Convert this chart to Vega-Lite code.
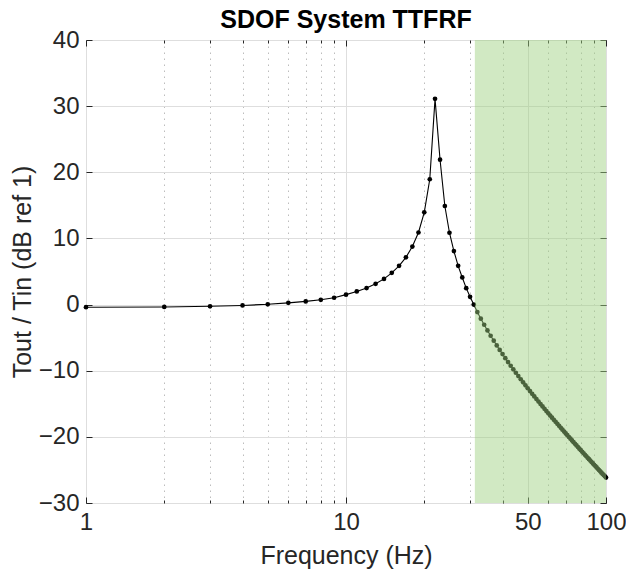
{
  "$schema": "https://vega.github.io/schema/vega-lite/v6.json",
  "width": 520,
  "height": 463,
  "autosize": "none",
  "padding": {"left": 86, "top": 40, "right": 20, "bottom": 72},
  "background": "white",
  "title": {"text": "SDOF System TTFRF", "fontSize": 25, "fontWeight": "bold", "font": "Liberation Sans", "color": "#000000", "offset": -5},
  "config": {
    "view": {"stroke": "#262626", "strokeWidth": 1},
    "axis": {"labelFont": "Liberation Sans", "titleFont": "Liberation Sans", "labelColor": "#262626", "titleColor": "#262626", "tickColor": "#262626", "titleFontWeight": "normal"}
  },
  "datasets": {
    "frf": [
      {"freq": 1, "db": -0.4}, {"freq": 2, "db": -0.36}, {"freq": 3, "db": -0.26}, {"freq": 4, "db": -0.13},
      {"freq": 5, "db": 0.04}, {"freq": 6, "db": 0.26}, {"freq": 7, "db": 0.48}, {"freq": 8, "db": 0.72},
      {"freq": 9, "db": 1.03}, {"freq": 10, "db": 1.5}, {"freq": 11, "db": 1.99}, {"freq": 12, "db": 2.49},
      {"freq": 13, "db": 3.14}, {"freq": 14, "db": 3.88}, {"freq": 15, "db": 4.8}, {"freq": 16, "db": 5.86},
      {"freq": 17, "db": 7.14}, {"freq": 18, "db": 8.77}, {"freq": 19, "db": 10.9}, {"freq": 20, "db": 13.95},
      {"freq": 21, "db": 18.95}, {"freq": 22, "db": 31.1}, {"freq": 23, "db": 21.9}, {"freq": 24, "db": 14.9},
      {"freq": 25, "db": 10.86}, {"freq": 26, "db": 8.09}, {"freq": 27, "db": 5.86}, {"freq": 28, "db": 4.1},
      {"freq": 29, "db": 2.48}, {"freq": 30, "db": 1.17}, {"freq": 31, "db": 0.0}, {"freq": 32, "db": -1.13},
      {"freq": 33, "db": -2.13}, {"freq": 34, "db": -3.05}, {"freq": 35, "db": -3.91}, {"freq": 36, "db": -4.71},
      {"freq": 37, "db": -5.46}, {"freq": 38, "db": -6.18}, {"freq": 39, "db": -6.85}, {"freq": 40, "db": -7.49},
      {"freq": 41, "db": -8.1}, {"freq": 42, "db": -8.69}, {"freq": 43, "db": -9.25}, {"freq": 44, "db": -9.79},
      {"freq": 45, "db": -10.31}, {"freq": 46, "db": -10.81}, {"freq": 47, "db": -11.29}, {"freq": 48, "db": -11.76},
      {"freq": 49, "db": -12.21}, {"freq": 50, "db": -12.65}, {"freq": 51, "db": -13.08}, {"freq": 52, "db": -13.49},
      {"freq": 53, "db": -13.89}, {"freq": 54, "db": -14.29}, {"freq": 55, "db": -14.67}, {"freq": 56, "db": -15.04},
      {"freq": 57, "db": -15.4}, {"freq": 58, "db": -15.76}, {"freq": 59, "db": -16.1}, {"freq": 60, "db": -16.44},
      {"freq": 61, "db": -16.78}, {"freq": 62, "db": -17.1}, {"freq": 63, "db": -17.42}, {"freq": 64, "db": -17.73},
      {"freq": 65, "db": -18.03}, {"freq": 66, "db": -18.33}, {"freq": 67, "db": -18.63}, {"freq": 68, "db": -18.92},
      {"freq": 69, "db": -19.2}, {"freq": 70, "db": -19.48}, {"freq": 71, "db": -19.75}, {"freq": 72, "db": -20.02},
      {"freq": 73, "db": -20.28}, {"freq": 74, "db": -20.54}, {"freq": 75, "db": -20.8}, {"freq": 76, "db": -21.05},
      {"freq": 77, "db": -21.3}, {"freq": 78, "db": -21.54}, {"freq": 79, "db": -21.78}, {"freq": 80, "db": -22.02},
      {"freq": 81, "db": -22.25}, {"freq": 82, "db": -22.48}, {"freq": 83, "db": -22.71}, {"freq": 84, "db": -22.93},
      {"freq": 85, "db": -23.16}, {"freq": 86, "db": -23.37}, {"freq": 87, "db": -23.59}, {"freq": 88, "db": -23.8},
      {"freq": 89, "db": -24.01}, {"freq": 90, "db": -24.22}, {"freq": 91, "db": -24.42}, {"freq": 92, "db": -24.62},
      {"freq": 93, "db": -24.82}, {"freq": 94, "db": -25.02}, {"freq": 95, "db": -25.21}, {"freq": 96, "db": -25.41},
      {"freq": 97, "db": -25.6}, {"freq": 98, "db": -25.78}, {"freq": 99, "db": -25.97}, {"freq": 100, "db": -26.15}
    ],
    "band": [{"f_start": 31.3, "f_end": 100}]
  },
  "layer": [
    {
      "data": {"name": "frf"},
      "mark": {"type": "line", "color": "#000000", "strokeWidth": 1.1},
      "encoding": {
        "x": {
          "field": "freq", "type": "quantitative",
          "scale": {"type": "log", "domain": [1, 100], "nice": false},
          "axis": {
            "orient": "bottom",
            "values": [1, 2, 3, 4, 5, 6, 7, 8, 9, 10, 20, 30, 40, 50, 60, 70, 80, 90, 100],
            "format": "d",
            "labelExpr": "indexof([1, 10, 50, 100], datum.value) >= 0 ? datum.label : ''",
            "labelFlush": false,
            "labelOverlap": false,
            "labelFontSize": 24,
            "labelPadding": 13,
            "domain": false,
            "grid": true,
            "gridColor": {"condition": {"test": "indexof([1, 10, 50, 100], datum.value) >= 0", "value": "#dedede"}, "value": "#bdbdbd"},
            "gridDash": {"condition": {"test": "indexof([1, 10, 50, 100], datum.value) >= 0", "value": []}, "value": [1.5, 4.5]},
            "tickSize": {"condition": {"test": "indexof([1, 10, 50, 100], datum.value) >= 0", "value": -6}, "value": -3},
            "title": "Frequency (Hz)",
            "titleFontSize": 25,
            "titlePadding": 6
          }
        },
        "y": {
          "field": "db", "type": "quantitative",
          "scale": {"domain": [-30, 40], "nice": false},
          "axis": {
            "orient": "left",
            "values": [-30, -20, -10, 0, 10, 20, 30, 40],
            "labelFontSize": 24,
            "labelPadding": 13,
            "domain": false,
            "grid": true,
            "gridColor": "#dedede",
            "tickSize": -6,
            "title": "Tout / Tin (dB ref 1)",
            "titleFontSize": 25,
            "titlePadding": 3
          }
        }
      }
    },
    {
      "data": {"name": "frf"},
      "mark": {"type": "point", "filled": true, "color": "#000000", "size": 22, "opacity": 1},
      "encoding": {
        "x": {
          "field": "freq", "type": "quantitative",
          "axis": {
            "orient": "top",
            "values": [1, 2, 3, 4, 5, 6, 7, 8, 9, 10, 20, 30, 40, 50, 60, 70, 80, 90, 100],
            "labels": false, "domain": false, "grid": false, "title": null,
            "tickSize": {"condition": {"test": "indexof([1, 10, 50, 100], datum.value) >= 0", "value": -6}, "value": -3}
          }
        },
        "y": {
          "field": "db", "type": "quantitative",
          "axis": {
            "orient": "right",
            "values": [-30, -20, -10, 0, 10, 20, 30, 40],
            "labels": false, "domain": false, "grid": false, "title": null,
            "tickSize": -6
          }
        }
      }
    },
    {
      "data": {"name": "band"},
      "mark": {"type": "rect", "color": "#9dd080", "opacity": 0.47},
      "encoding": {
        "x": {"field": "f_start", "type": "quantitative", "axis": null},
        "x2": {"field": "f_end"}
      }
    }
  ],
  "resolve": {"axis": {"x": "independent", "y": "independent"}}
}
